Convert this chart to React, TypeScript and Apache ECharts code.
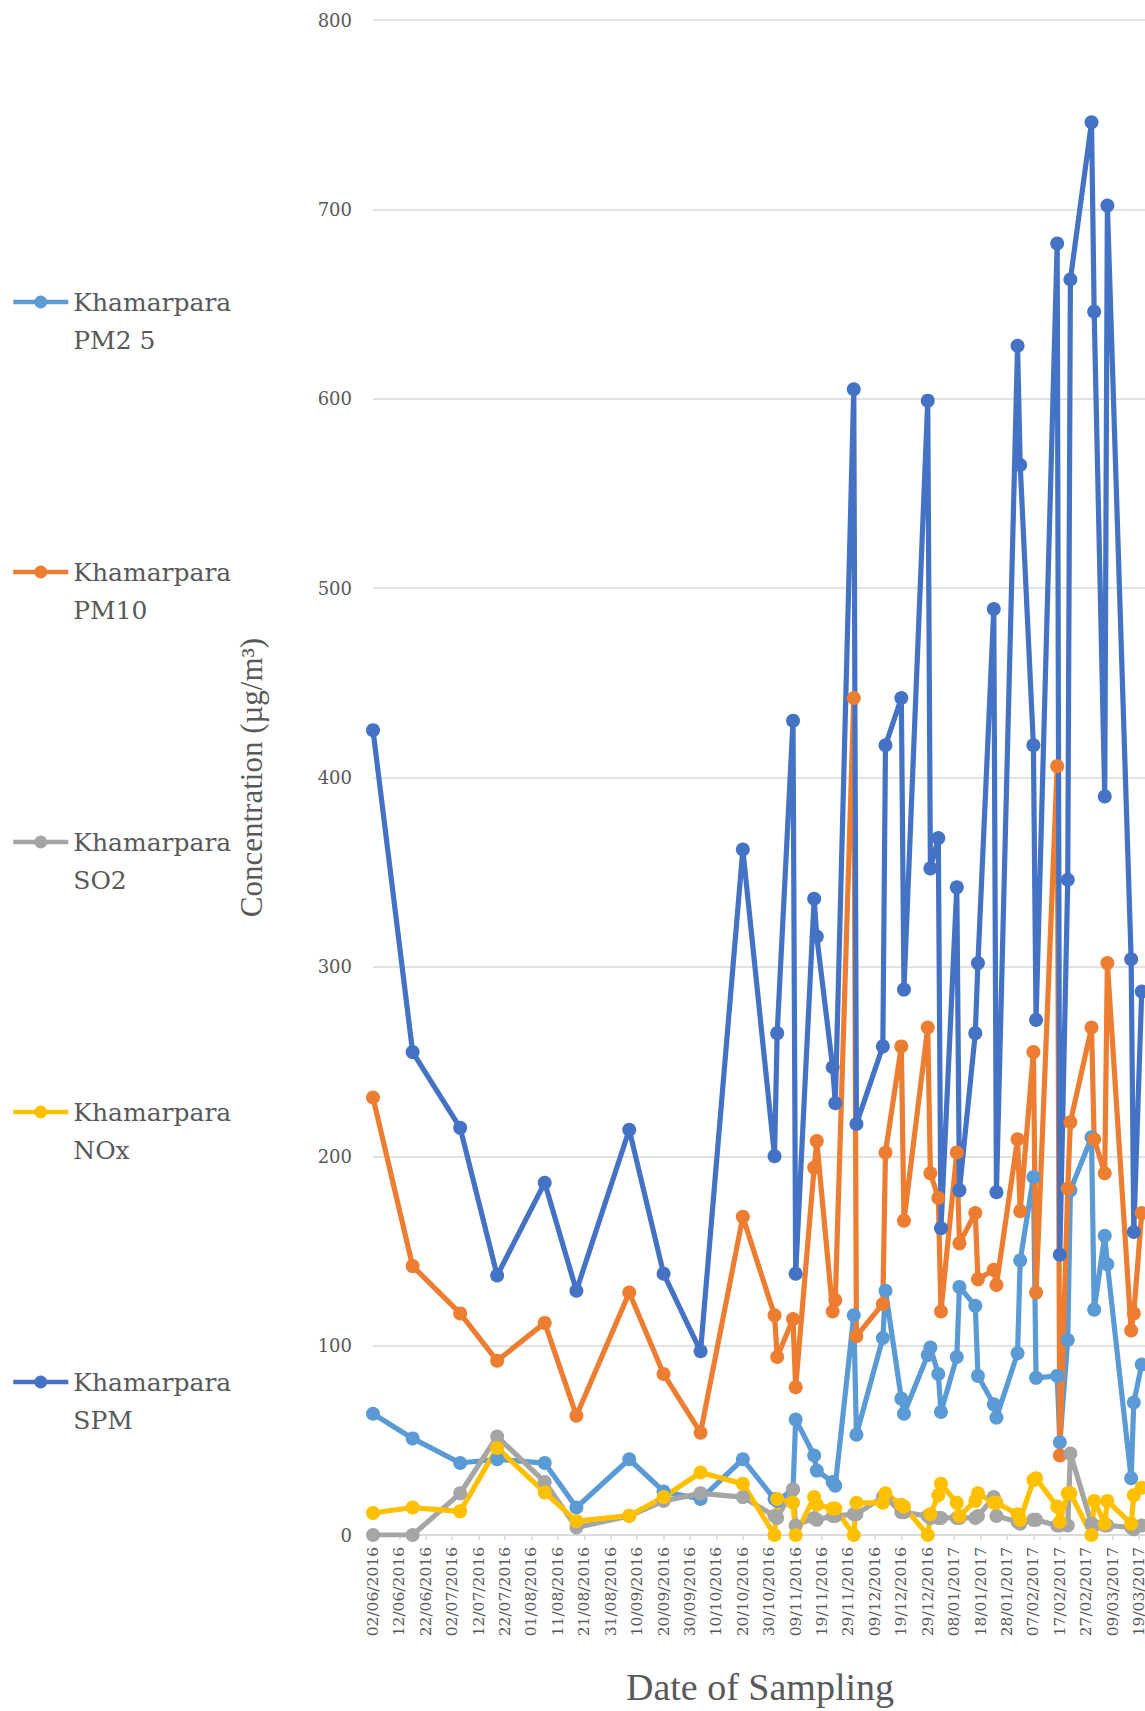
import React, { useEffect, useRef } from "react";
import * as echarts from "echarts";

// Sampling dates (ISO)
const DATES = [
  "2016-06-02", "2016-06-17", "2016-07-05", "2016-07-19", "2016-08-06", "2016-08-18", "2016-09-07", "2016-09-20", "2016-10-04", "2016-10-20",
  "2016-11-01", "2016-11-02", "2016-11-08", "2016-11-09", "2016-11-16", "2016-11-17", "2016-11-23", "2016-11-24", "2016-12-01", "2016-12-02",
  "2016-12-12", "2016-12-13", "2016-12-19", "2016-12-20", "2016-12-29", "2016-12-30", "2017-01-02", "2017-01-03", "2017-01-09", "2017-01-10",
  "2017-01-16", "2017-01-17", "2017-01-23", "2017-01-24", "2017-02-01", "2017-02-02", "2017-02-07", "2017-02-08", "2017-02-16", "2017-02-17",
  "2017-02-20", "2017-02-21", "2017-03-01", "2017-03-02", "2017-03-06", "2017-03-07", "2017-03-16", "2017-03-17", "2017-03-20",
];

const PM25 = [
  64, 51, 38, 40, 38, 14.5, 40, 23, 19, 40,
  19, 18, 24, 61, 42, 34, 28, 26, 116, 53,
  104, 129, 72, 64, 95, 99, 85, 65, 94, 131,
  121, 84, 69, 62, 96, 145, 189, 83, 84, 49,
  103, 182, 210, 119, 158, 143, 30, 70, 90,
];

const PM10 = [
  231, 142, 117, 92, 112, 63, 128, 85, 54, 168,
  116, 94, 114, 78, 194, 208, 118, 124, 442, 105,
  122, 202, 258, 166, 268, 191, 178, 118, 202, 154,
  170, 135, 140, 132, 209, 171, 255, 128, 406, 42,
  183, 218, 268, 209, 191, 302, 108, 117, 170,
];

const SO2 = [
  0, 0, 22, 52, 28, 4, 10, 18, 22, 20,
  10, 9, 24, 5, 9, 8, 10, 10, 11, 11,
  20, 20, 12, 12, 10, 9, 9, 9, 9, 9,
  9, 10, 20, 10, 7, 6, 8, 8, 5, 5,
  5, 43, 6, 5, 5, 5, 4, 3, 5,
];

const NOX = [
  11.6, 14.5, 12.5, 46, 22.5, 7.3, 10.2, 20, 33, 27,
  0, 19, 17, 0, 20, 16, 14, 14, 0, 17,
  17, 22, 16, 15, 0, 11, 21, 27, 17, 10,
  18, 22, 17, 17, 11, 8, 29, 30, 15, 7,
  22, 22, 0, 18, 6, 18, 6, 21, 25,
];

const SPM = [
  425, 255, 215, 137, 186, 129, 214, 138, 97, 362,
  200, 265, 430, 138, 336, 316, 247, 228, 605, 217,
  258, 417, 442, 288, 599, 352, 368, 162, 342, 182,
  265, 302, 489, 181, 628, 565, 417, 272, 682, 148,
  346, 663, 746, 646, 390, 702, 304, 160, 287,
];

const SERIES_NAMES = [
  "Khamarpara PM2 5",
  "Khamarpara PM10",
  "Khamarpara SO2",
  "Khamarpara NOx",
  "Khamarpara SPM",
];
const SERIES_VALUES = [PM25, PM10, SO2, NOX, SPM];
const COLORS = ["#5B9BD5", "#ED7D31", "#A5A5A5", "#FFC000", "#4472C4"];

const X_START = "2016-06-02";
const X_END = "2017-03-22";
const X_STEP_DAYS = 10;
const Y_MIN = 0;
const Y_MAX = 800;
const Y_STEP = 100;

const DAY_MS = 86400000;
const parseUTC = (s: string) => {
  const [y, m, d] = s.split("-").map(Number);
  return Date.UTC(y, m - 1, d);
};
const T0 = parseUTC(X_START);
const toDay = (s: string) => Math.round((parseUTC(s) - T0) / DAY_MS);
const pad = (n: number) => (n < 10 ? "0" + n : "" + n);
const fmtDay = (v: number) => {
  const dt = new Date(T0 + Math.round(v) * DAY_MS);
  return pad(dt.getUTCDate()) + "/" + pad(dt.getUTCMonth() + 1) + "/" + dt.getUTCFullYear();
};

const TEXT = "#595959";
const GRID = "#D9D9D9";

export default function App() {
  const ref = useRef<HTMLDivElement>(null);

  useEffect(() => {
    if (!ref.current) return;
    const chart = echarts.init(ref.current, undefined, { renderer: "svg" });
    const series = SERIES_NAMES.map((name, si) => ({
      name,
      type: "line",
      symbol: "circle",
      symbolSize: 14,
      showAllSymbol: true,
      color: COLORS[si],
      lineStyle: { width: 5.2, color: COLORS[si] },
      itemStyle: { color: COLORS[si] },
      data: DATES.map((d, i) => [toDay(d), SERIES_VALUES[si][i]]),
      clip: true,
    }));

    chart.setOption({
      animation: false,
      backgroundColor: "#ffffff",
      grid: { left: 373, right: 3, top: 20, bottom: 176, containLabel: false },
      legend: {
        orient: "vertical",
        left: 11,
        top: 245,
        padding: 0,
        itemWidth: 55,
        itemHeight: 16,
        itemGap: 156,
        data: SERIES_NAMES,
        lineStyle: { width: 4.5 },
        formatter: (name: string) => "\n" + name.replace(" ", "\n"),
        textStyle: {
          fontFamily: "DejaVu Serif",
          fontSize: 25,
          color: TEXT,
          lineHeight: 38,
        },
      },
      xAxis: {
        type: "value",
        min: 0,
        max: toDay(X_END),
        interval: X_STEP_DAYS,
        name: "Date of Sampling",
        nameLocation: "middle",
        nameGap: 133,
        nameTextStyle: { fontFamily: "Liberation Serif", fontSize: 38, color: TEXT },
        axisLine: { show: true, lineStyle: { color: GRID, width: 1.5 } },
        axisTick: { show: true, length: 5, lineStyle: { color: GRID, width: 1.5 } },
        splitLine: { show: false },
        axisLabel: {
          rotate: 90,
          margin: 12,
          showMaxLabel: false,
          formatter: (v: number) => fmtDay(v),
          fontFamily: "DejaVu Serif",
          fontSize: 15.5,
          color: TEXT,
        },
      },
      yAxis: {
        type: "value",
        min: Y_MIN,
        max: Y_MAX,
        interval: Y_STEP,
        name: "Concentration (µg/m³)",
        nameLocation: "middle",
        nameGap: 106,
        nameTextStyle: { fontFamily: "Liberation Serif", fontSize: 31, color: TEXT },
        axisLine: { show: false },
        axisTick: { show: false },
        splitLine: { show: true, lineStyle: { color: GRID, width: 1.5 } },
        axisLabel: { margin: 21, fontFamily: "DejaVu Serif", fontSize: 18, color: TEXT },
      },
      series,
    });
    return () => chart.dispose();
  }, []);

  return (
    <div style={{ position: "absolute", left: 0, top: 0, width: 1145, height: 1711, overflow: "hidden", background: "#fff" }}>
      <div ref={ref} style={{ width: 1150, height: 1711 }} />
    </div>
  );
}
